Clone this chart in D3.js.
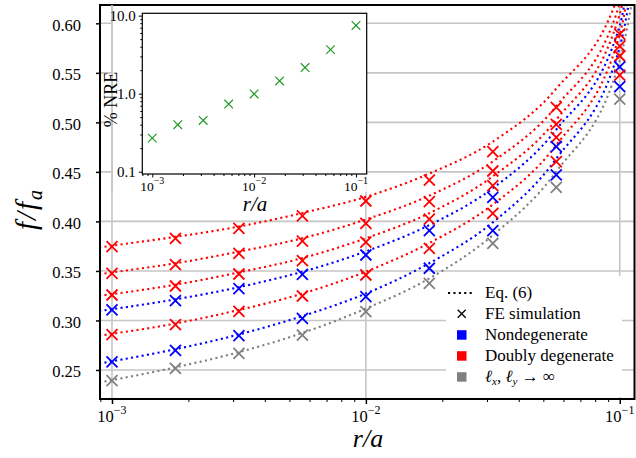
<!DOCTYPE html>
<html>
<head>
<meta charset="utf-8">
<script src="https://cdn.jsdelivr.net/npm/d3@7"></script>
</head>
<body style="margin:0;background:#fff">
<svg id="chart" width="636" height="458"></svg>
<script>
// r/a sample points of the FE simulation
var rOverA = [1e-3, 1.778e-3, 3.162e-3, 5.623e-3, 1e-2, 1.778e-2, 3.162e-2, 5.623e-2, 1e-1];

// FE simulation values f/f_a (top to bottom at r/a = 1e-3)
var feRed1  = [0.3745, 0.3829, 0.3930, 0.4055, 0.4206, 0.4418, 0.4704, 0.5152, 0.5892];
var feRed2  = [0.3476, 0.3563, 0.3678, 0.3802, 0.3981, 0.4199, 0.4509, 0.4980, 0.5770];
var feRed3  = [0.3257, 0.3348, 0.3469, 0.3603, 0.3792, 0.4024, 0.4361, 0.4849, 0.5670];
var feBlue1 = [0.3106, 0.3200, 0.3321, 0.3466, 0.3661, 0.3906, 0.4243, 0.4754, 0.5560];
var feRed4  = [0.2857, 0.2957, 0.3092, 0.3247, 0.3459, 0.3728, 0.4082, 0.4603, 0.5478];
var feBlue2 = [0.2581, 0.2699, 0.2846, 0.3022, 0.3240, 0.3527, 0.3906, 0.4469, 0.5360];
var feGray  = [0.2392, 0.2517, 0.2668, 0.2853, 0.3089, 0.3375, 0.3779, 0.4344, 0.5235];

// Eq. (6) curves
var eqR = [8.9e-4, 1e-3, 1.778e-3, 3.162e-3, 5.623e-3, 1e-2, 1.778e-2, 3.162e-2, 5.623e-2, 1e-1, 0.115];
var eqRed1  = [0.3737, 0.3755, 0.3844, 0.3948, 0.4085, 0.4248, 0.4483, 0.4806, 0.5341, 0.6333, 0.75];
var eqRed2  = [0.3467, 0.3485, 0.3577, 0.3695, 0.3830, 0.4020, 0.4260, 0.4606, 0.5163, 0.6202, 0.73];
var eqRed3  = [0.3249, 0.3266, 0.3361, 0.3485, 0.3630, 0.3830, 0.4083, 0.4455, 0.5027, 0.6094, 0.71];
var eqBlue1 = [0.3096, 0.3114, 0.3213, 0.3336, 0.3492, 0.3697, 0.3963, 0.4335, 0.4928, 0.5976, 0.70];
var eqRed4  = [0.2846, 0.2865, 0.2969, 0.3106, 0.3271, 0.3493, 0.3782, 0.4170, 0.4772, 0.5888, 0.68];
var eqBlue2 = [0.2565, 0.2588, 0.2710, 0.2859, 0.3044, 0.3272, 0.3578, 0.3990, 0.4633, 0.5761, 0.66];
var eqGray  = [0.2374, 0.2398, 0.2527, 0.2680, 0.2874, 0.3120, 0.3424, 0.3861, 0.4503, 0.5627, 0.64];

// inset: % NRE
var nre = [0.269, 0.40, 0.454, 0.736, 0.99, 1.455, 2.16, 3.67, 7.48];

// ticks
var yTicks = [0.25, 0.30, 0.35, 0.40, 0.45, 0.50, 0.55, 0.60];
var xMajor = [1e-3, 1e-2, 1e-1];
var xMajorExp = ['\u22123', '\u22122', '\u22121'];
var insetYTicks = [0.1, 1, 10];
var insetYLabels = ['0.1', '1.0', '10.0'];

var legendLabels = ['Eq. (6)', 'FE simulation', 'Nondegenerate', 'Doubly degenerate'];

var RED = '#ff0000', BLUE = '#0000ff', GRAY = '#808080', GREEN = '#229922';
var SERIF = '"Liberation Serif"';

var series = [
  {fe: feRed1, eq: eqRed1, color: RED},
  {fe: feRed2, eq: eqRed2, color: RED},
  {fe: feRed3, eq: eqRed3, color: RED},
  {fe: feBlue1, eq: eqBlue1, color: BLUE},
  {fe: feRed4, eq: eqRed4, color: RED},
  {fe: feBlue2, eq: eqBlue2, color: BLUE},
  {fe: feGray, eq: eqGray, color: GRAY}
];

var svg = d3.select('#chart');
var L = 100, R = 634.5, T = 5, B = 399;

var x = d3.scaleLog().domain([8.97e-4, 0.1143]).range([L, R]);
var y = d3.scaleLinear().domain([0.2207, 0.6185]).range([B, T]);

function minorTicks(lo, hi) {
  var out = [];
  for (var e = -4; e <= 0; e++)
    for (var m = 2; m <= 9; m++) {
      var v = m * Math.pow(10, e);
      if (v >= lo && v <= hi) out.push(v);
    }
  return out;
}

function crossPath(s) {
  return 'M' + (-s) + ',' + (-s) + 'L' + s + ',' + s + 'M' + (-s) + ',' + s + 'L' + s + ',' + (-s);
}

svg.append('defs').append('clipPath').attr('id', 'plotclip')
  .append('rect').attr('x', L).attr('y', T).attr('width', R - L).attr('height', B - T);

// grid
var grid = svg.append('g').attr('stroke', '#c6c6c6').attr('stroke-width', 1.6);
grid.selectAll('.gy').data(yTicks).enter().append('line')
  .attr('x1', L).attr('x2', R)
  .attr('y1', function(d) { return y(d); }).attr('y2', function(d) { return y(d); });
grid.selectAll('.gx').data(xMajor).enter().append('line')
  .attr('y1', T).attr('y2', B)
  .attr('x1', function(d) { return x(d); }).attr('x2', function(d) { return x(d); });

// Eq. (6) dotted curves
var line = d3.line()
  .x(function(d) { return x(d[0]); })
  .y(function(d) { return y(d[1]); })
  .curve(d3.curveMonotoneX);

var plot = svg.append('g').attr('clip-path', 'url(#plotclip)');
plot.selectAll('.eq').data(series).enter().append('path')
  .attr('fill', 'none')
  .attr('stroke', function(d) { return d.color; })
  .attr('stroke-width', 2.1)
  .attr('stroke-dasharray', '2.1,3.3')
  .attr('d', function(d) { return line(d3.zip(eqR, d.eq)); });

// FE crosses
svg.append('g').selectAll('.fe').data(series).enter().append('g')
  .attr('stroke', function(d) { return d.color; })
  .attr('stroke-width', 1.8)
  .selectAll('path')
  .data(function(d) { return d3.zip(rOverA, d.fe); })
  .enter().append('path')
  .attr('d', crossPath(5.5))
  .attr('transform', function(d) { return 'translate(' + x(d[0]) + ',' + y(d[1]) + ')'; });

// frame
svg.append('rect').attr('x', L).attr('y', T).attr('width', R - L).attr('height', B - T)
  .attr('fill', 'none').attr('stroke', '#000').attr('stroke-width', 2);

// y axis
var yAxis = svg.append('g').attr('transform', 'translate(' + L + ',0)')
  .call(d3.axisLeft(y).tickValues(yTicks).tickSize(4).tickPadding(15).tickFormat(d3.format('.2f')));
yAxis.select('.domain').remove();
yAxis.selectAll('line').attr('stroke-width', 1.5);
yAxis.selectAll('text').style('font-size', '16.5px').attr('dy', '0.42em');

// x axis
var xAxis = svg.append('g').attr('transform', 'translate(0,' + B + ')')
  .call(d3.axisBottom(x).tickValues(xMajor).tickSize(5).tickFormat(''));
xAxis.select('.domain').remove();
xAxis.selectAll('line').attr('stroke-width', 1.5);
var xMinor = svg.append('g').attr('transform', 'translate(0,' + B + ')')
  .call(d3.axisBottom(x).tickValues(minorTicks(9e-4, 0.114)).tickSize(3).tickFormat(''));
xMinor.select('.domain').remove();

var xl = svg.append('g').selectAll('text').data(xMajor).enter().append('text')
  .attr('x', function(d) { return x(d); }).attr('y', 422)
  .attr('text-anchor', 'middle').style('font-size', '16.5px');
xl.append('tspan').text('10');
xl.append('tspan').attr('dy', -8).style('font-size', '12px').text(function(d, i) { return xMajorExp[i]; });

// axis titles
svg.append('text').attr('x', 368).attr('y', 447).attr('text-anchor', 'middle')
  .style('font-size', '26px').style('font-style', 'italic').text('r/a');
var yt = svg.append('text').attr('transform', 'translate(36,209) rotate(-90)')
  .attr('text-anchor', 'middle').style('font-size', '29px').style('font-style', 'italic')
  .style('letter-spacing', '2px');
yt.append('tspan').text('f/f');
yt.append('tspan').attr('dy', 6).style('font-size', '20px').text('a');

// ---- inset ----
var IL = 142.3, IR = 366.7, IT = 13.3, IB = 174;
var ix = d3.scaleLog().domain([7.98e-4, 0.1274]).range([IL, IR]);
var iy = d3.scaleLog().domain([Math.pow(10, -1.03), Math.pow(10, 1.03)]).range([IB, IT]);

svg.append('rect').attr('x', 113).attr('y', 6).attr('width', IR - 113).attr('height', 186).attr('fill', '#fff');
// keep the 1e-3 grid line visible under the inset labels
svg.append('line').attr('x1', x(1e-3)).attr('x2', x(1e-3)).attr('y1', T).attr('y2', 192)
  .attr('stroke', '#c6c6c6').attr('stroke-width', 1.6);
svg.append('rect').attr('x', IL).attr('y', IT).attr('width', IR - IL).attr('height', IB - IT)
  .attr('fill', '#fff').attr('stroke', '#000').attr('stroke-width', 1.2);

svg.append('g').attr('stroke', GREEN).attr('stroke-width', 1.2)
  .selectAll('path').data(d3.zip(rOverA, nre)).enter().append('path')
  .attr('d', crossPath(4.3))
  .attr('transform', function(d) { return 'translate(' + ix(d[0]) + ',' + iy(d[1]) + ')'; });

var iyAxis = svg.append('g').attr('transform', 'translate(' + IL + ',0)')
  .call(d3.axisLeft(iy).tickValues(insetYTicks).tickSize(3.5).tickPadding(3)
    .tickFormat(function(d, i) { return insetYLabels[i]; }));
iyAxis.select('.domain').remove();
iyAxis.selectAll('text').style('font-size', '15px').attr('dy', '0.32em');
var iyMinor = svg.append('g').attr('transform', 'translate(' + IL + ',0)')
  .call(d3.axisLeft(iy).tickValues([0.2, 0.3, 0.4, 0.5, 0.6, 0.7, 0.8, 0.9, 2, 3, 4, 5, 6, 7, 8, 9]).tickSize(2).tickFormat(''));
iyMinor.select('.domain').remove();

var ixAxis = svg.append('g').attr('transform', 'translate(0,' + IB + ')')
  .call(d3.axisBottom(ix).tickValues(xMajor).tickSize(3.5).tickFormat(''));
ixAxis.select('.domain').remove();
var ixMinor = svg.append('g').attr('transform', 'translate(0,' + IB + ')')
  .call(d3.axisBottom(ix).tickValues(minorTicks(8e-4, 0.127)).tickSize(2).tickFormat(''));
ixMinor.select('.domain').remove();

var ixl = svg.append('g').selectAll('text').data(xMajor).enter().append('text')
  .attr('x', function(d) { return ix(d); }).attr('y', 190.5)
  .attr('text-anchor', 'middle').style('font-size', '13.5px');
ixl.append('tspan').text('10');
ixl.append('tspan').attr('dy', -7).style('font-size', '10px').text(function(d, i) { return xMajorExp[i]; });

svg.append('text').attr('transform', 'translate(117,99.5) rotate(-90)').attr('text-anchor', 'middle')
  .style('font-size', '18px').text('% NRE');
svg.append('text').attr('x', 255).attr('y', 211).attr('text-anchor', 'middle')
  .style('font-size', '21px').style('font-style', 'italic').text('r/a');

// ---- legend ----
var lg = svg.append('g');
lg.append('rect').attr('x', 446).attr('y', 276).attr('width', 176).attr('height', 121).attr('fill', '#fff');
var rowY = function(i) { return 297.5 + 21 * i; };
lg.append('line').attr('x1', 448).attr('x2', 473).attr('y1', rowY(0) - 4.5).attr('y2', rowY(0) - 4.5)
  .attr('stroke', '#000').attr('stroke-width', 2.1).attr('stroke-dasharray', '2.1,3.3');
lg.append('path').attr('d', crossPath(4)).attr('stroke', '#000').attr('stroke-width', 1.3)
  .attr('transform', 'translate(461.7,' + (rowY(1) - 4.7) + ')');
lg.selectAll('.sw').data([BLUE, RED, GRAY]).enter().append('rect')
  .attr('x', 457).attr('y', function(d, i) { return rowY(i + 2) - 9.3; })
  .attr('width', 9.5).attr('height', 9.5).attr('fill', function(d) { return d; });
lg.selectAll('.lt').data(legendLabels).enter().append('text')
  .attr('x', 485).attr('y', function(d, i) { return rowY(i); })
  .style('font-size', '17px').text(function(d) { return d; });
var inf = lg.append('text').attr('x', 485).attr('y', rowY(4)).style('font-size', '17px');
inf.append('tspan').style('font-style', 'italic').text('\u2113');
inf.append('tspan').style('font-size', '11px').attr('dy', 3).style('font-style', 'italic').text('x');
inf.append('tspan').attr('dy', -3).text(', ');
inf.append('tspan').style('font-style', 'italic').text('\u2113');
inf.append('tspan').style('font-size', '11px').attr('dy', 3).style('font-style', 'italic').text('y');
inf.append('tspan').attr('dy', -3).text(' \u2192 \u221e');

// serif everywhere, black text
svg.selectAll('g').attr('font-family', null);
svg.selectAll('text').style('font-family', SERIF).style('fill', '#000');
</script>
</body>
</html>
